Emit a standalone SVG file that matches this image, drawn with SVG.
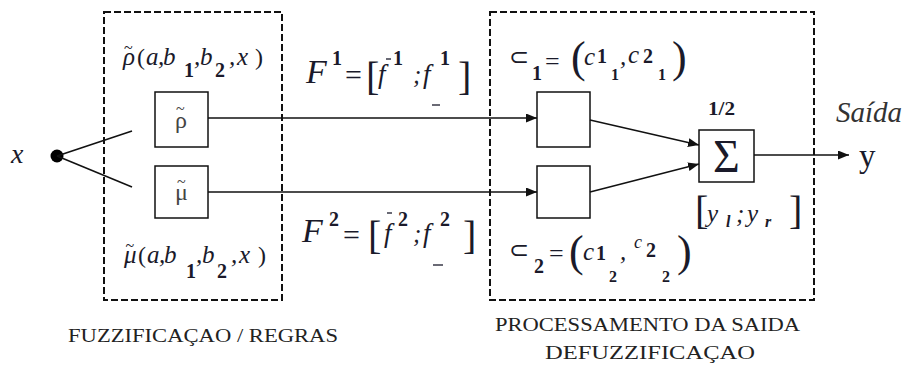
<svg xmlns="http://www.w3.org/2000/svg" width="906" height="373" viewBox="0 0 906 373" font-family="Liberation Serif, serif">
<style>
.ln{stroke:#111;stroke-width:1.5;fill:none}
.bx{stroke:#111;stroke-width:1.5;fill:#fff}
.dash{stroke:#111;stroke-width:2;fill:none;stroke-dasharray:7 3}
.m{font-style:italic;font-size:25px;fill:#1a1a2a}
.r{font-size:24px;fill:#1a1a2a}
.sb{font-weight:bold;font-size:20px;fill:#1a1a2a}
.ssb{font-weight:bold;font-size:16px;fill:#1a1a2a}
.br{font-size:40px;fill:#1a1a2a}
.cap{font-size:19px;fill:#222}
.gr{font-size:24px;fill:#444}
</style>
<defs>
<marker id="ah" markerUnits="userSpaceOnUse" markerWidth="12" markerHeight="10" refX="11" refY="4.5" orient="auto">
<path d="M0,0 L11,4.5 L0,9 z" fill="#111"/>
</marker>
</defs>
<rect width="906" height="373" fill="#fff"/>

<g id="fuzzification-block">
<rect class="dash" x="104" y="12" width="178" height="288"/>
<text class="cap" x="68" y="342" textLength="270" lengthAdjust="spacingAndGlyphs">FUZZIFICAÇAO / REGRAS</text>
<g id="rho-label">
<text class="m" x="123" y="65">ρ<tspan dx="-11" dy="-12" style="font-size:16px;font-style:normal">~</tspan></text>
<text class="r" x="137" y="65">(</text>
<text class="m" x="146" y="65">a</text>
<text class="m" x="158" y="65">,</text>
<text class="m" x="163" y="65">b</text>
<text class="sb" x="184" y="77">1</text>
<text class="m" x="194" y="65">,</text>
<text class="m" x="200" y="65">b</text>
<text class="sb" x="215" y="77">2</text>
<text class="m" x="229" y="65">,</text>
<text class="m" x="237" y="65">x</text>
<text class="r" x="255" y="65">)</text>
</g>
<g id="mu-label">
<text class="m" x="124" y="263">μ<tspan dx="-11" dy="-12" style="font-size:16px;font-style:normal">~</tspan></text>
<text class="r" x="138" y="263">(</text>
<text class="m" x="147" y="263">a</text>
<text class="m" x="159" y="263">,</text>
<text class="m" x="164" y="263">b</text>
<text class="sb" x="186" y="278">1</text>
<text class="m" x="196" y="263">,</text>
<text class="m" x="202" y="263">b</text>
<text class="sb" x="217" y="278">2</text>
<text class="m" x="231" y="263">,</text>
<text class="m" x="239" y="263">x</text>
<text class="r" x="258" y="263">)</text>
</g>
</g>

<g id="input">
<text class="m" x="11" y="163" style="font-size:28px">x</text>
<circle cx="57" cy="156" r="6.5" fill="#000"/>
</g>

<g id="rho">
<rect class="bx" x="155" y="92" width="53" height="55"/>
<text class="gr" x="175" y="128">ρ<tspan dx="-11" dy="-14" style="font-size:16px">~</tspan></text>
</g>

<g id="mu">
<rect class="bx" x="155" y="166" width="53" height="52"/>
<text class="gr" x="175" y="200">μ<tspan dx="-11" dy="-13" style="font-size:16px">~</tspan></text>
</g>

<g id="F1-label">
<text class="m" x="306" y="83" style="font-size:34px">F</text>
<text class="sb" x="332" y="65">1</text>
<text class="r" x="345" y="85" style="font-size:30px">=</text>
<text class="br" x="366" y="90">[</text>
<text class="m" x="378" y="83" style="font-size:27px">f</text>
<line x1="386" y1="59" x2="391" y2="59" stroke="#1a1a2a" stroke-width="1.3"/>
<text class="sb" x="393" y="65">1</text>
<text class="m" x="413" y="83">;</text>
<text class="m" x="423" y="83" style="font-size:27px">f</text>
<text class="sb" x="440" y="65">1</text>
<line x1="432" y1="105" x2="440" y2="105" stroke="#1a1a2a" stroke-width="1.3"/>
<text class="br" x="458" y="90">]</text>
</g>

<g id="F2-label">
<text class="m" x="302" y="242" style="font-size:34px">F</text>
<text class="sb" x="329" y="226">2</text>
<text class="r" x="343" y="245" style="font-size:30px">=</text>
<text class="br" x="368" y="249">[</text>
<text class="m" x="384" y="242" style="font-size:27px">f</text>
<line x1="387" y1="213" x2="392" y2="213" stroke="#1a1a2a" stroke-width="1.3"/>
<text class="sb" x="398" y="226">2</text>
<text class="m" x="413" y="242">;</text>
<text class="m" x="423" y="242" style="font-size:27px">f</text>
<text class="sb" x="440" y="226">2</text>
<line x1="433" y1="265" x2="443" y2="265" stroke="#1a1a2a" stroke-width="1.3"/>
<text class="br" x="463" y="249">]</text>
</g>

<g id="processing-block">
<rect class="dash" x="490" y="12" width="324" height="288"/>
<text class="cap" x="495" y="331" textLength="305" lengthAdjust="spacingAndGlyphs">PROCESSAMENTO DA SAIDA</text>
<text class="cap" x="545" y="359" textLength="210" lengthAdjust="spacingAndGlyphs">DEFUZZIFICAÇAO</text>
<g id="c1-label">
<text class="r" x="509" y="65">⊂</text>
<text class="sb" x="532" y="80">1</text>
<text class="r" x="545" y="70" style="font-size:26px">=</text>
<text class="r" x="571" y="72" style="font-size:44px">(</text>
<text class="m" x="584" y="65">c</text>
<text class="sb" x="597" y="63">1</text>
<text class="ssb" x="611" y="80">1</text>
<text class="m" x="620" y="65">,</text>
<text class="m" x="628" y="63">c</text>
<text class="sb" x="643" y="63">2</text>
<text class="ssb" x="658" y="80">1</text>
<text class="r" x="672" y="72" style="font-size:44px">)</text>
</g>
<g id="c2-label">
<text class="r" x="509" y="258">⊂</text>
<text class="sb" x="534" y="273">2</text>
<text class="r" x="549" y="262" style="font-size:26px">=</text>
<text class="r" x="569" y="266" style="font-size:44px">(</text>
<text class="m" x="583" y="260">c</text>
<text class="sb" x="596" y="260">1</text>
<text class="ssb" x="609" y="282">2</text>
<text class="m" x="620" y="260">,</text>
<text class="m" x="634" y="248" style="font-size:18px">c</text>
<text class="sb" x="646" y="257">2</text>
<text class="ssb" x="662" y="282">2</text>
<text class="r" x="677" y="266" style="font-size:44px">)</text>
</g>
</g>

<g id="c1">
<rect class="bx" x="537" y="92" width="53" height="55"/>
</g>
<g id="c2">
<rect class="bx" x="537" y="166" width="53" height="52"/>
</g>

<g id="sum">
<text class="sb" x="708" y="115" textLength="27" lengthAdjust="spacingAndGlyphs" style="font-size:19px">1/2</text>
<rect class="bx" x="699" y="130" width="55" height="52"/>
<text class="r" x="726.5" y="172" text-anchor="middle" style="font-size:46px">Σ</text>
<text class="br" x="695" y="224">[</text>
<text class="m" x="707" y="222">y</text>
<text class="ssb" x="726" y="227" style="font-style:italic">l</text>
<text class="m" x="736" y="222">;</text>
<text class="m" x="747" y="222">y</text>
<text class="ssb" x="765" y="227" style="font-style:italic">r</text>
<text class="br" x="789" y="224">]</text>
</g>

<g id="output">
<text class="m" x="836" y="122" style="font-size:29px;fill:#333">Saída</text>
<text class="r" x="859" y="167" style="font-size:33px">y</text>
</g>

<g id="connectors">
<line class="ln" x1="57" y1="156" x2="132" y2="131"/>
<line class="ln" x1="57" y1="156" x2="132" y2="187"/>
<line class="ln" x1="208" y1="118" x2="537" y2="118" marker-end="url(#ah)"/>
<line class="ln" x1="208" y1="192" x2="537" y2="192" marker-end="url(#ah)"/>
<line class="ln" x1="590" y1="120" x2="699" y2="145" marker-end="url(#ah)"/>
<line class="ln" x1="590" y1="192" x2="699" y2="164" marker-end="url(#ah)"/>
<line class="ln" x1="754" y1="155" x2="849" y2="155" marker-end="url(#ah)"/>
</g>
</svg>
